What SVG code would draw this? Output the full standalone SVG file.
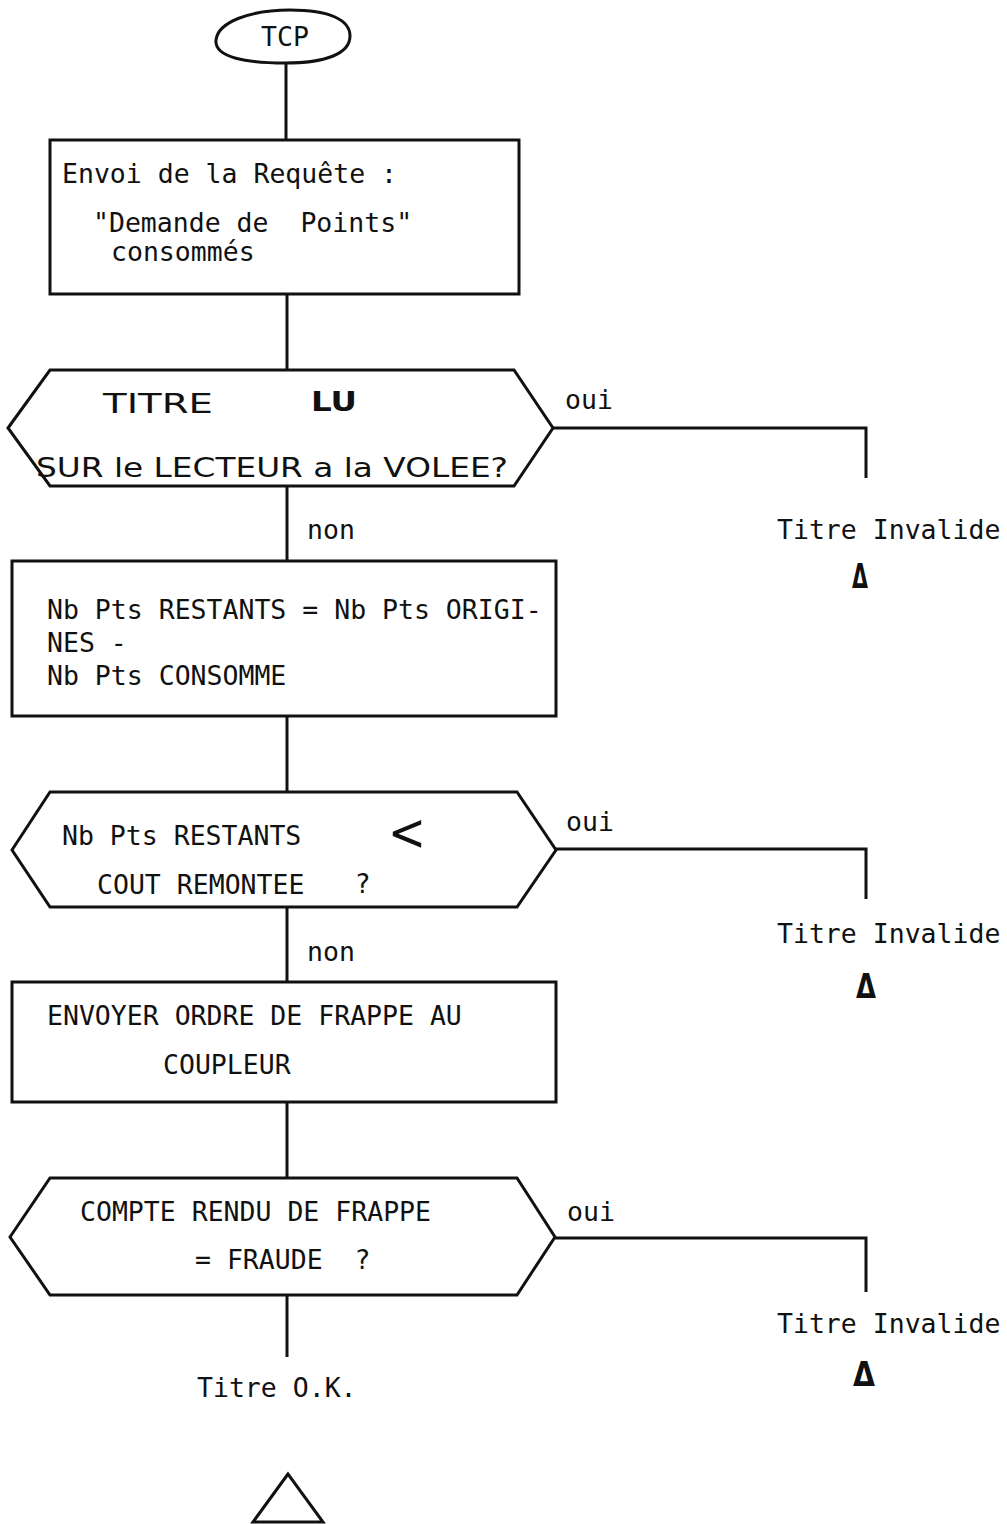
<svg xmlns="http://www.w3.org/2000/svg" width="1007" height="1524" viewBox="0 0 1007 1524">
<style>
.bg{fill:#fff}
.sh{fill:none;stroke:#111;stroke-width:3;stroke-linejoin:miter}
.ln{fill:none;stroke:#111;stroke-width:3}
.t{font-family:"DejaVu Sans Mono","Liberation Mono",monospace;font-size:26.5px;fill:#111}
.h{font-family:"DejaVu Sans","Liberation Sans",sans-serif;font-size:26px;fill:#111}
.hb{font-family:"DejaVu Sans","Liberation Sans",sans-serif;font-size:26px;font-weight:bold;fill:#111}
.d{font-family:"DejaVu Sans","Liberation Sans",sans-serif;font-size:34px;font-weight:bold;fill:#111}
</style>
<rect class="bg" x="0" y="0" width="1007" height="1524"/>
<g id="connectors">
  <line class="ln" x1="286" y1="63" x2="286" y2="140"/>
  <line class="ln" x1="287" y1="294" x2="287" y2="370"/>
  <line class="ln" x1="287" y1="486" x2="287" y2="561"/>
  <polyline class="ln" points="553,428 866,428 866,478"/>
  <line class="ln" x1="287" y1="716" x2="287" y2="792"/>
  <polyline class="ln" points="556,849 866,849 866,899"/>
  <line class="ln" x1="287" y1="907" x2="287" y2="982"/>
  <line class="ln" x1="287" y1="1102" x2="287" y2="1178"/>
  <polyline class="ln" points="555,1238 866,1238 866,1292"/>
  <line class="ln" x1="287" y1="1295" x2="287" y2="1357"/>
  <text class="t" x="565" y="409">oui</text>
  <text class="t" x="307" y="539">non</text>
  <text class="t" x="566" y="831">oui</text>
  <text class="t" x="307" y="961">non</text>
  <text class="t" x="567" y="1221">oui</text>
</g>
<g id="start">
  <path class="sh" d="M216,40 C218,22 250,10 290,10 C330,10 350,20 350,36 C350,54 325,63 285,63 C248,63 214,58 216,40 Z"/>
  <text class="t" x="285" y="46" text-anchor="middle">TCP</text>
</g>
<g id="envoi">
  <rect class="sh" x="50" y="140" width="469" height="154"/>
  <text class="t" x="62" y="183">Envoi de la Requête :</text>
  <text class="t" x="93" y="232" xml:space="preserve">"Demande de  Points"</text>
  <text class="t" x="111" y="261">consommés</text>
</g>
<g id="decision1">
  <polygon class="sh" points="8,428 50,370 514,370 553,428 514,486 50,486"/>
  <text class="h" x="103" y="413" textLength="110" lengthAdjust="spacingAndGlyphs">TITRE</text>
  <text class="hb" x="311" y="411" textLength="46" lengthAdjust="spacingAndGlyphs">LU</text>
  <text class="h" x="36" y="477" font-size="32" textLength="472" lengthAdjust="spacingAndGlyphs">SUR le LECTEUR a la VOLEE?</text>
</g>
<g id="invalide1">
  <text class="t" x="777" y="539">Titre Invalide</text>
  <text class="d" x="852" y="588" textLength="16" lengthAdjust="spacingAndGlyphs">Δ</text>
</g>
<g id="calcul">
  <rect class="sh" x="12" y="561" width="544" height="155"/>
  <text class="t" x="47" y="619">Nb Pts RESTANTS = Nb Pts ORIGI-</text>
  <text class="t" x="47" y="652">NES -</text>
  <text class="t" x="47" y="685">Nb Pts CONSOMME</text>
</g>
<g id="decision2">
  <polygon class="sh" points="12,850 50,792 517,792 556,850 517,907 50,907"/>
  <text class="t" x="62" y="845">Nb Pts RESTANTS</text>
  <text class="h" transform="translate(388,850) scale(1,2)" x="0" y="0" font-size="58" textLength="38" lengthAdjust="spacingAndGlyphs">&lt;</text>
  <text class="t" x="97" y="894">COUT REMONTEE</text>
  <text class="h" x="356" y="893" font-size="46" textLength="14" lengthAdjust="spacingAndGlyphs">?</text>
</g>
<g id="invalide2">
  <text class="t" x="777" y="943">Titre Invalide</text>
  <text class="d" x="856" y="998" textLength="20" lengthAdjust="spacingAndGlyphs">Δ</text>
</g>
<g id="frappe">
  <rect class="sh" x="12" y="982" width="544" height="120"/>
  <text class="t" x="47" y="1025">ENVOYER ORDRE DE FRAPPE AU</text>
  <text class="t" x="163" y="1074">COUPLEUR</text>
</g>
<g id="decision3">
  <polygon class="sh" points="10,1237 50,1178 517,1178 555,1237 517,1295 50,1295"/>
  <text class="t" x="80" y="1221">COMPTE RENDU DE FRAPPE</text>
  <text class="t" x="195" y="1269" xml:space="preserve">= FRAUDE  ?</text>
</g>
<g id="invalide3">
  <text class="t" x="777" y="1333">Titre Invalide</text>
  <text class="d" x="853" y="1386" textLength="22" lengthAdjust="spacingAndGlyphs">Δ</text>
</g>
<g id="ok">
  <text class="t" x="197" y="1397">Titre O.K.</text>
  <polygon class="sh" points="288,1474 253,1522 323,1522"/>
</g>
</svg>
